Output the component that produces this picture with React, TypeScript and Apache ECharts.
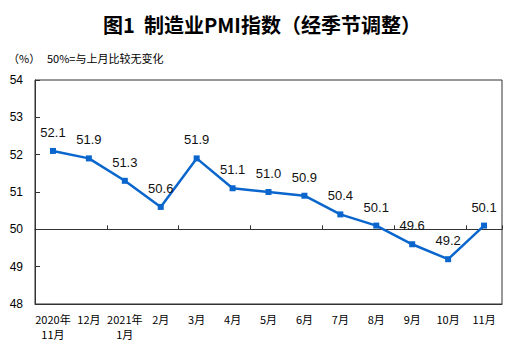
import React, { useEffect, useRef } from "react";
import * as echarts from "echarts";

const categories = ["2020年\n11月", "12月", "2021年\n1月", "2月", "3月", "4月", "5月", "6月", "7月", "8月", "9月", "10月", "11月"];
const pmiValues = [52.1, 51.9, 51.3, 50.6, 51.9, 51.1, 51.0, 50.9, 50.4, 50.1, 49.6, 49.2, 50.1];
const yMin = 48;
const yMax = 54;
const baseline = 50;

const GRID_TOP = 80;
const GRID_BOTTOM_Y = 304;
const GRID_H = GRID_BOTTOM_Y - GRID_TOP;

export default function App() {
  const ref = useRef<HTMLDivElement>(null);
  useEffect(() => {
    if (!ref.current) return;
    const chart = echarts.init(ref.current, undefined, { renderer: "svg" });
    const font = "Arial, 'Liberation Sans', 'Noto Sans CJK SC', sans-serif";
    chart.setOption({
      animation: false,
      backgroundColor: "#ffffff",
      textStyle: { fontFamily: font },
      title: {
        text: "图1  制造业PMI指数（经季节调整）",
        left: "center",
        top: 9,
        textStyle: { fontSize: 20, fontWeight: "bold", color: "#000", fontFamily: "'Noto Sans CJK SC', sans-serif" },
      },
      graphic: [
        { type: "text", left: 8, top: 52, style: { text: "（%）", fontSize: 11, fill: "#000", fontFamily: "'Noto Sans CJK SC', sans-serif" } },
        { type: "text", left: 47, top: 52, style: { text: "50%=与上月比较无变化", fontSize: 11, fill: "#000", fontFamily: "'Noto Sans CJK SC', sans-serif" } },
      ],
      grid: {
        left: 35,
        right: 22,
        top: GRID_TOP,
        height: GRID_H,
        show: true,
        borderColor: "#333",
        borderWidth: 1,
        containLabel: false,
      },
      xAxis: [
        {
          type: "category",
          data: categories,
          boundaryGap: true,
          axisLine: { show: true, lineStyle: { color: "#333", width: 1 } },
          axisTick: { show: false },
          axisLabel: { color: "#000", fontSize: 11, margin: 7, lineHeight: 15, interval: 0, fontFamily: "'Noto Sans CJK SC', sans-serif" },
        },
        {
          type: "category",
          data: categories,
          position: "bottom",
          offset: -(GRID_H * (baseline - yMin)) / (yMax - yMin),
          boundaryGap: true,
          axisLine: { show: true, lineStyle: { color: "#333", width: 1.2 } },
          axisTick: { show: true, inside: true, length: 4, lineStyle: { color: "#333" } },
          axisLabel: { show: false },
        },
      ],
      yAxis: {
        type: "value",
        min: yMin,
        max: yMax,
        interval: 1,
        axisLine: { show: true, lineStyle: { color: "#333" } },
        axisTick: { show: true, inside: true, length: 5, lineStyle: { color: "#333" } },
        axisLabel: { color: "#000", fontSize: 12, margin: 12 },
        splitLine: { show: false },
      },
      series: [
        {
          type: "line",
          data: pmiValues,
          xAxisIndex: 0,
          color: "#0A66CC",
          lineStyle: { color: "#0A66CC", width: 2.5 },
          symbol: "rect",
          symbolSize: 6,
          itemStyle: { color: "#0A66CC" },
          label: {
            show: true,
            position: "top",
            distance: 9,
            fontSize: 13,
            color: "#111",
            fontFamily: font,
            formatter: (p: any) => Number(p.value).toFixed(1),
          },
        },
      ],
    });
    return () => chart.dispose();
  }, []);
  return <div ref={ref} style={{ width: 524, height: 354, position: "absolute", left: 0, top: 0 }} />;
}
